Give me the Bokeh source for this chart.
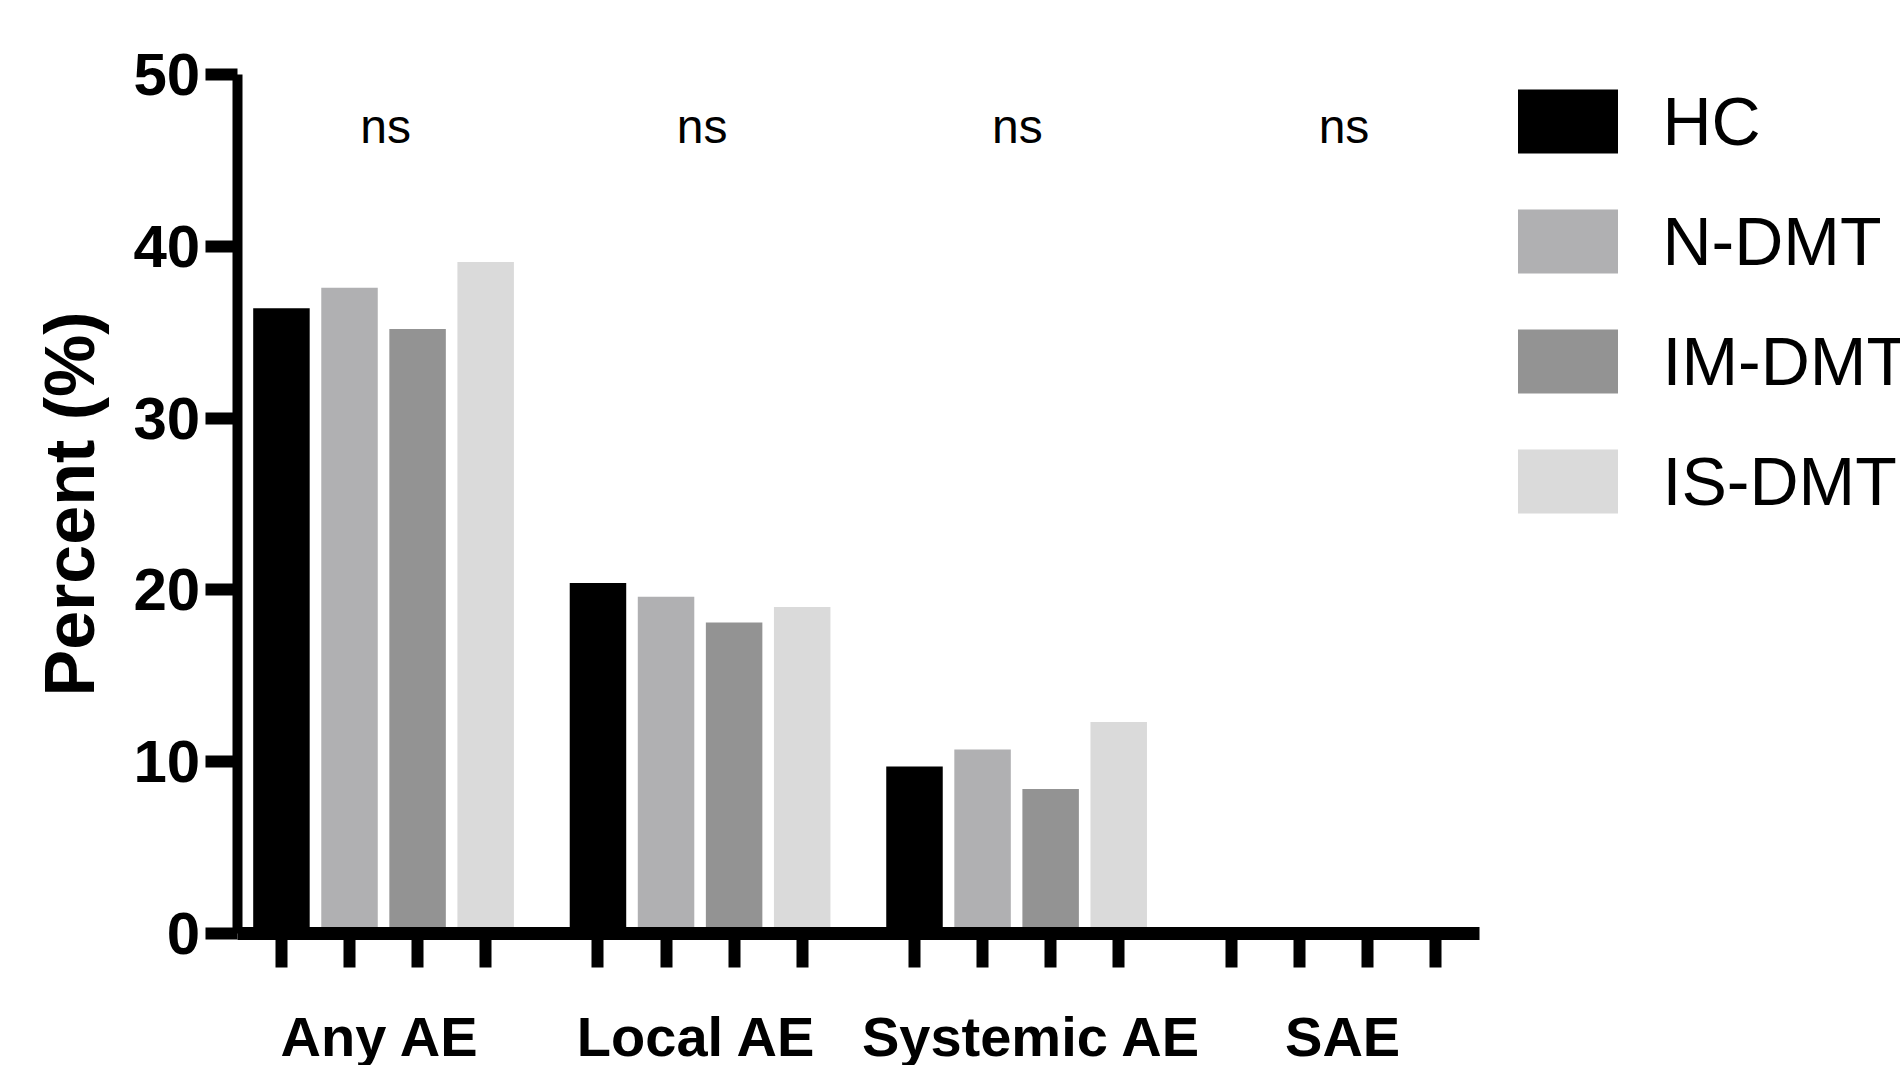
from bokeh.plotting import figure
from bokeh.models import Range1d, FixedTicker, Legend, LegendItem, ColumnDataSource
from bokeh.core.properties import value
from bokeh.embed import file_html
from bokeh.resources import INLINE

# ---- data ----
categories = ["Any AE", "Local AE", "Systemic AE", "SAE"]
series = ["HC", "N-DMT", "IM-DMT", "IS-DMT"]
hc = [36.4, 20.4, 9.7, 0.0]
n_dmt = [37.6, 19.6, 10.7, 0.0]
im_dmt = [35.2, 18.1, 8.4, 0.0]
is_dmt = [39.1, 19.0, 12.3, 0.0]
significance = ["ns", "ns", "ns", "ns"]
y_ticks = [0, 10, 20, 30, 40, 50]
colors = ["#000000", "#b0b0b2", "#939393", "#dadada"]

# ---- layout constants (slot units: one bar slot = 1) ----
FONT = "Liberation Sans"
GROUP_STEP = 4.65
BAR_W = 0.83
NS_Y = 47.0
LABEL_NUDGE = [-0.05, -0.05, 0.22, 0.14]
NS_NUDGE = [0.03, 0.03, 0.01, 0.16]
X_AXIS_START = -0.65
X_AXIS_END = 3 * GROUP_STEP + 3 + 0.65
X_RANGE = (-4.1273, 23.7851)
Y_RANGE = (-7.7134, 54.3315)

n_series = len(series)
n_groups = len(categories)
bar_pos = [[round(g * GROUP_STEP + j, 3) for g in range(n_groups)] for j in range(n_series)]
group_centers = [g * GROUP_STEP + (n_series - 1) / 2 for g in range(n_groups)]
label_pos = [round(c + d, 3) for c, d in zip(group_centers, LABEL_NUDGE)]
ns_pos = [round(c + d, 3) for c, d in zip(group_centers, NS_NUDGE)]
all_bar_pos = sorted(x for row in bar_pos for x in row)

p = figure(width=1900, height=1065, x_range=Range1d(*X_RANGE), y_range=Range1d(*Y_RANGE),
           output_backend="svg", toolbar_location=None,
           min_border_left=0, min_border_right=0, min_border_top=0, min_border_bottom=0,
           background_fill_color="white", border_fill_color="white", outline_line_color=None)
p.xgrid.grid_line_color = None
p.ygrid.grid_line_color = None

values = [hc, n_dmt, im_dmt, is_dmt]
renderers = []
for j, (s, vals, col) in enumerate(zip(series, values, colors)):
    src = ColumnDataSource(dict(x=bar_pos[j], top=vals))
    r = p.vbar(x="x", top="top", bottom=0, width=BAR_W, source=src,
               fill_color=col, line_color=None)
    renderers.append(r)

# significance labels
ns_src = ColumnDataSource(dict(x=ns_pos, y=[NS_Y] * n_groups, text=significance))
p.text(x="x", y="y", text="text", source=ns_src, text_align="center",
       text_baseline="alphabetic", text_font=value(FONT), text_font_size="48px",
       text_color="black")

# y axis
yax = p.yaxis[0]
yax.fixed_location = X_AXIS_START
yax.bounds = (0, 50)
yax.ticker = FixedTicker(ticks=y_ticks)
yax.minor_tick_line_color = None
yax.major_tick_out = 32
yax.major_tick_in = 0
yax.major_tick_line_width = 12
yax.major_tick_line_color = "black"
yax.axis_line_width = 10
yax.axis_line_color = "black"
yax.major_label_text_font = FONT
yax.major_label_text_font_size = "60px"
yax.major_label_text_font_style = "bold"
yax.major_label_text_color = "black"
yax.major_label_standoff = 5
yax.axis_label = "Percent (%)"
yax.axis_label_text_font = FONT
yax.axis_label_text_font_size = "70px"
yax.axis_label_text_font_style = "bold"
yax.axis_label_text_color = "black"
yax.axis_label_standoff = 22

# x axis: group names under each group, tick marks at every bar
xax = p.xaxis[0]
xax.fixed_location = 0
xax.bounds = (X_AXIS_START, X_AXIS_END)
xax.ticker = FixedTicker(ticks=label_pos, minor_ticks=all_bar_pos)
xax.major_label_overrides = {c: name for c, name in zip(label_pos, categories)}
xax.axis_line_width = 13
xax.axis_line_color = "black"
xax.major_tick_out = 34
xax.major_tick_in = 0
xax.major_tick_line_color = None
xax.minor_tick_out = 34
xax.minor_tick_in = 0
xax.minor_tick_line_width = 12
xax.minor_tick_line_color = "black"
xax.major_label_standoff = 38
xax.major_label_text_font = FONT
xax.major_label_text_font_size = "56px"
xax.major_label_text_font_style = "bold"
xax.major_label_text_color = "black"

legend = Legend(items=[LegendItem(label=s, renderers=[r]) for s, r in zip(series, renderers)],
                location=(1504.5, 544), orientation="vertical",
                glyph_width=125, glyph_height=80, label_height=80, label_standoff=33,
                spacing=40, padding=0, margin=0, border_line_color=None,
                background_fill_alpha=0, label_text_font=FONT,
                label_text_font_size="68px", label_text_color="black")
p.add_layout(legend)

open("out.html", "w").write(file_html(p, INLINE))
